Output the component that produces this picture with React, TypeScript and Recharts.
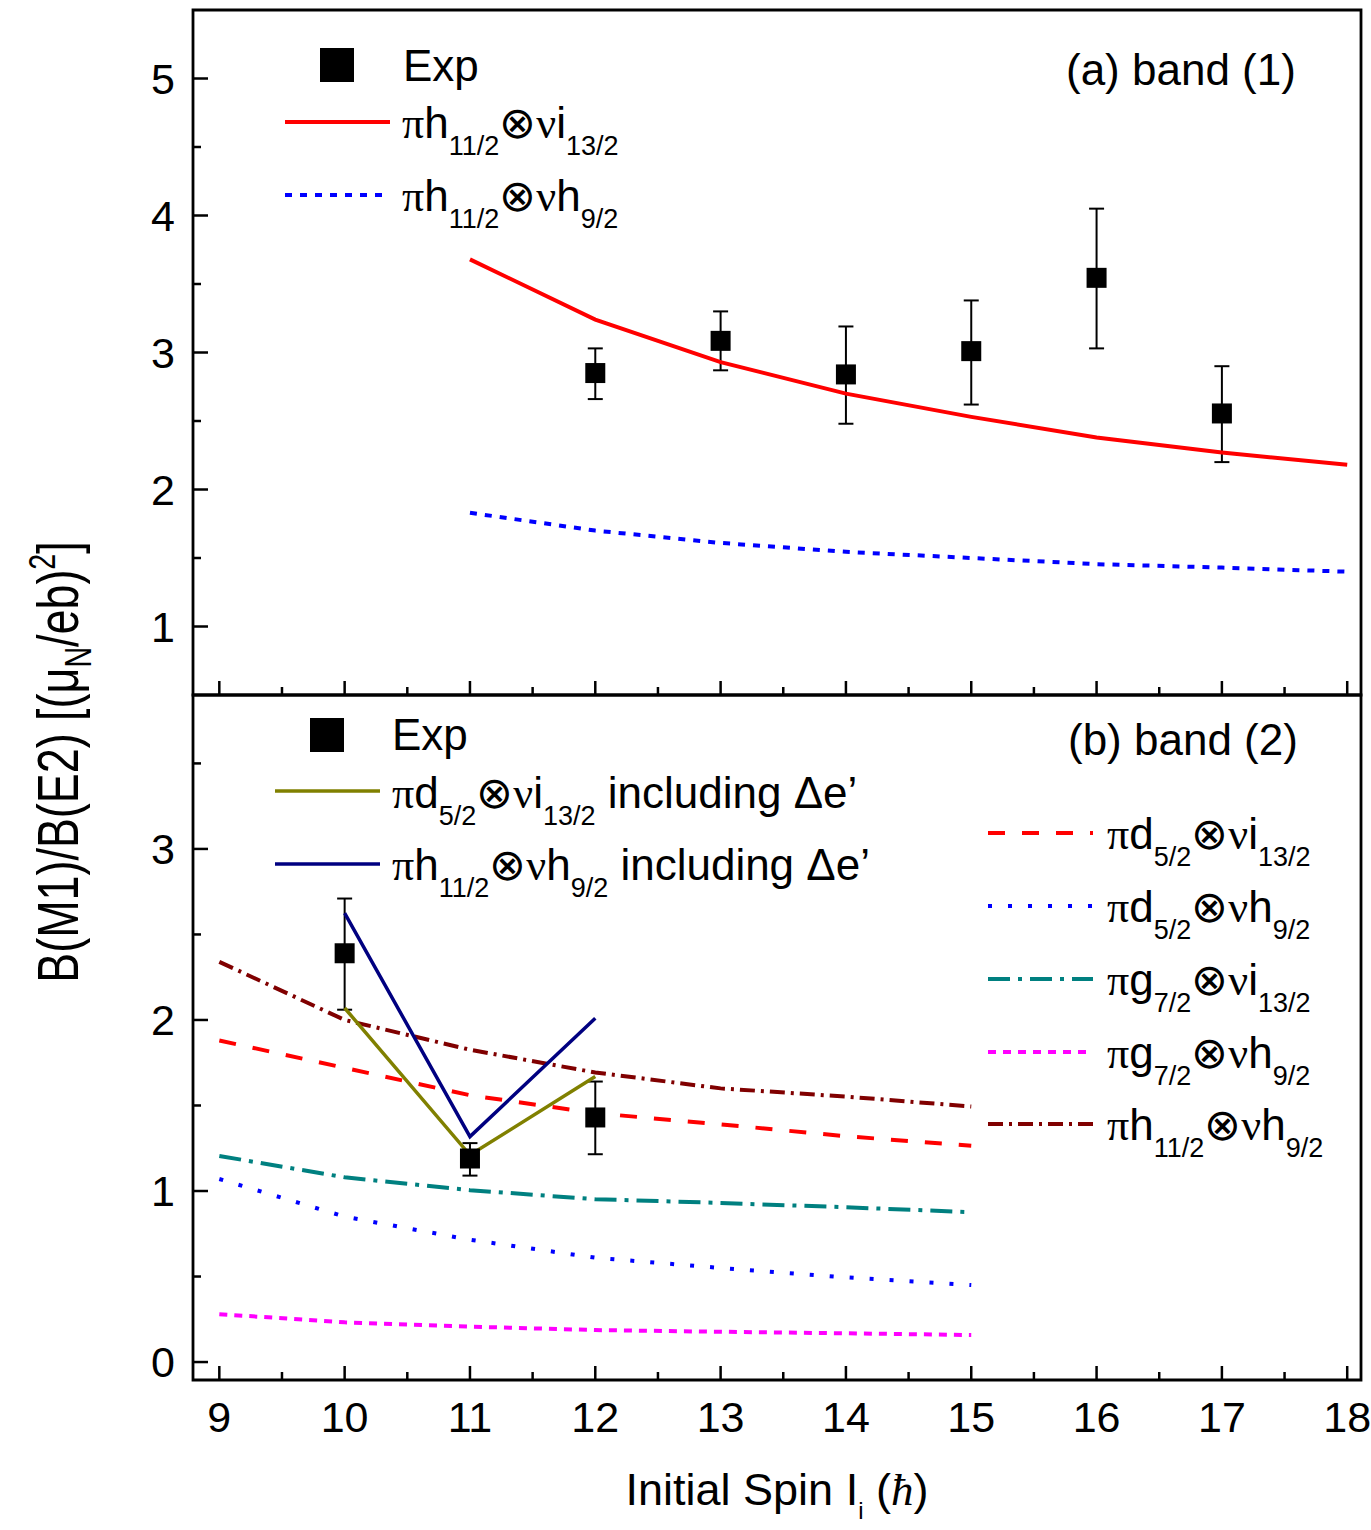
import React from 'react';
import {
  ComposedChart,
  Line,
  Scatter,
  XAxis,
  YAxis,
  ErrorBar,
  ReferenceArea,
  Legend,
} from 'recharts';

const FONT = '"Liberation Sans", Arial, Helvetica, sans-serif';
const SERIF = '"Liberation Serif", "DejaVu Serif", serif';
const W = 1371;
const H = 1530;

// shared x axis (initial spin)
const X_DOMAIN: [number, number] = [8.79, 18.11];
const X_TICKS = [9, 9.5, 10, 10.5, 11, 11.5, 12, 12.5, 13, 13.5, 14, 14.5, 15, 15.5, 16, 16.5, 17, 17.5, 18];

// panel (a) band (1)
const TOP_DOMAIN: [number, number] = [0.5, 5.5];
const TOP_TICKS = [1, 1.5, 2, 2.5, 3, 3.5, 4, 4.5, 5];
const topSpins = [11, 12, 13, 14, 15, 16, 17, 18];
const topHI = [3.68, 3.24, 2.93, 2.7, 2.53, 2.38, 2.27, 2.18];
const topHH = [1.83, 1.7, 1.61, 1.545, 1.5, 1.455, 1.43, 1.4];
const topExpSpins = [12, 13, 14, 15, 16, 17];
const topExp = [2.85, 3.085, 2.84, 3.01, 3.545, 2.555];
const topExpErrLo = [0.19, 0.215, 0.36, 0.39, 0.515, 0.355];
const topExpErrHi = [0.18, 0.215, 0.35, 0.37, 0.505, 0.345];

// panel (b) band (2)
const BOT_DOMAIN: [number, number] = [-0.105, 3.9];
const BOT_TICKS = [0, 0.5, 1, 1.5, 2, 2.5, 3, 3.5];
const botSpins = [9, 10, 11, 12, 13, 14, 15];
const botDI = [1.88, 1.72, 1.56, 1.455, 1.39, 1.32, 1.265];
const botDH = [1.07, 0.85, 0.715, 0.61, 0.55, 0.495, 0.45];
const botGI = [1.205, 1.08, 1.005, 0.952, 0.93, 0.905, 0.876];
const botGH = [0.28, 0.232, 0.207, 0.187, 0.177, 0.168, 0.158];
const botHH = [2.34, 2.0, 1.826, 1.693, 1.6, 1.552, 1.494];
const deltaSpins = [10, 11, 12];
const botDIDelta = [2.07, 1.21, 1.67];
const botHHDelta = [2.625, 1.318, 2.01];
const botExpSpins = [10, 11, 12];
const botExp = [2.39, 1.19, 1.43];
const botExpErrLo = [0.33, 0.1, 0.215];
const botExpErrHi = [0.32, 0.09, 0.21];

type Seg = [string, 'n' | 's' | 'g' | 'h'];

const LBL_HI: Seg[] = [['π', 'g'], ['h', 'n'], ['11/2', 's'], ['⊗', 'n'], ['ν', 'g'], ['i', 'n'], ['13/2', 's']];
const LBL_HH: Seg[] = [['π', 'g'], ['h', 'n'], ['11/2', 's'], ['⊗', 'n'], ['ν', 'g'], ['h', 'n'], ['9/2', 's']];
const LBL_DI: Seg[] = [['π', 'g'], ['d', 'n'], ['5/2', 's'], ['⊗', 'n'], ['ν', 'g'], ['i', 'n'], ['13/2', 's']];
const LBL_DH: Seg[] = [['π', 'g'], ['d', 'n'], ['5/2', 's'], ['⊗', 'n'], ['ν', 'g'], ['h', 'n'], ['9/2', 's']];
const LBL_GI: Seg[] = [['π', 'g'], ['g', 'n'], ['7/2', 's'], ['⊗', 'n'], ['ν', 'g'], ['i', 'n'], ['13/2', 's']];
const LBL_GH: Seg[] = [['π', 'g'], ['g', 'n'], ['7/2', 's'], ['⊗', 'n'], ['ν', 'g'], ['h', 'n'], ['9/2', 's']];
const INCL: Seg = [' including Δe’', 'n'];

const pts = (xs: number[], ys: number[]) => xs.map((x, i) => ({ x, y: ys[i] }));
const expPts = (xs: number[], ys: number[], lo: number[], hi: number[]) =>
  xs.map((x, i) => ({ x, y: ys[i], err: [lo[i], hi[i]] }));

function Formula({ x, y, segs, size = 44, sub = 27, shift = 17, anchor = 'start' }: any) {
  let level = 0;
  return (
    <text x={x} y={y} fontSize={size} fontFamily={FONT} fill="#000" textAnchor={anchor}>
      {segs.map(([t, k]: Seg, i: number) => {
        const want = k === 's' ? shift : 0;
        const dy = want - level;
        level = want;
        return (
          <tspan
            key={i}
            dy={dy}
            fontSize={k === 's' ? sub : size}
            fontFamily={k === 'g' || k === 'h' ? SERIF : undefined}
            fontStyle={k === 'h' ? 'italic' : undefined}
          >
            {t}
          </tspan>
        );
      })}
    </text>
  );
}

function XTick(props: any) {
  const { x, y, payload, showLabel } = props;
  const major = Number.isInteger(payload.value);
  return (
    <g>
      <line x1={x} x2={x} y1={y} y2={y - (major ? 14 : 8)} stroke="#000" strokeWidth={2.5} />
      {showLabel && major && (
        <text x={x} y={y + 52} textAnchor="middle" fontSize={43} fontFamily={FONT} fill="#000">
          {payload.value}
        </text>
      )}
    </g>
  );
}

function YTick(props: any) {
  const { x, y, payload } = props;
  const major = Number.isInteger(payload.value);
  return (
    <g>
      <line x1={x} x2={x + (major ? 15 : 8)} y1={y} y2={y} stroke="#000" strokeWidth={2.5} />
      {major && (
        <text x={x - 18} y={y + 15} textAnchor="end" fontSize={43} fontFamily={FONT} fill="#000">
          {payload.value}
        </text>
      )}
    </g>
  );
}

const Square = (props: any) => {
  const { cx, cy } = props;
  return <rect x={cx - 10} y={cy - 10} width={20} height={20} fill="#000" />;
};

const LegendSample = ({ y, x1, x2, color, dash, width = 4 }: any) => (
  <line x1={x1} x2={x2} y1={y} y2={y} stroke={color} strokeWidth={width} strokeDasharray={dash} />
);

const TopLegend = () => (
  <svg width={W} height={H} style={{ overflow: 'visible' }}>
    <rect x={320} y={48} width={34} height={34} fill="#000" />
    <text x={403} y={81} fontSize={44} fontFamily={FONT} fill="#000">Exp</text>
    <LegendSample y={122} x1={285} x2={390} color="#ff0000" />
    <Formula x={402} y={138} segs={LBL_HI} />
    <LegendSample y={195} x1={285} x2={387} color="#0000ff" dash="7 8" />
    <Formula x={402} y={211} segs={LBL_HH} />
    <text x={1066} y={85} fontSize={44} fontFamily={FONT} fill="#000">(a) band (1)</text>
    <text
      transform="translate(78, 762) rotate(-90) scale(1.02, 1.3)"
      textAnchor="middle"
      fontSize={44}
      fontFamily={FONT}
      fill="#000"
    >
      B(M1)/B(E2) [(μ
      <tspan dy={10} fontSize={28}>N</tspan>
      <tspan dy={-10}>/eb)</tspan>
      <tspan dy={-18} fontSize={28}>2</tspan>
      <tspan dy={18}>]</tspan>
    </text>
  </svg>
);

const RIGHT_ROWS = [
  { y: 833, color: '#ff0000', dash: '17 17', segs: LBL_DI },
  { y: 906, color: '#0000ff', dash: '4 16', segs: LBL_DH },
  { y: 979, color: '#008080', dash: '22 8 4 8', segs: LBL_GI },
  { y: 1052, color: '#ff00ff', dash: '8 7', segs: LBL_GH },
  { y: 1124, color: '#800000', dash: '15 6 3 6', segs: LBL_HH },
];

const BottomLegend = () => (
  <svg width={W} height={H} style={{ overflow: 'visible' }}>
    <rect x={310} y={718} width={34} height={34} fill="#000" />
    <text x={392} y={750} fontSize={44} fontFamily={FONT} fill="#000">Exp</text>
    <LegendSample y={791} x1={275} x2={380} color="#808000" width={3.5} />
    <Formula x={392} y={808} segs={[...LBL_DI, INCL]} />
    <LegendSample y={864} x1={275} x2={380} color="#000080" width={3.5} />
    <Formula x={392} y={880} segs={[...LBL_HH, INCL]} />
    <text x={1068} y={755} fontSize={44} fontFamily={FONT} fill="#000">(b) band (2)</text>
    {RIGHT_ROWS.map((r) => (
      <g key={r.y}>
        <LegendSample y={r.y} x1={988} x2={1093} color={r.color} dash={r.dash} />
        <Formula x={1107} y={r.y + 16} segs={r.segs} />
      </g>
    ))}
    <Formula
      x={777}
      y={1505}
      anchor="middle"
      size={45}
      sub={24}
      shift={14}
      segs={[['Initial Spin I', 'n'], ['i', 's'], [' (', 'n'], ['ħ', 'h'], [')', 'n']]}
    />
  </svg>
);

const legendWrap = { left: 0, top: 0, width: W, height: H, pointerEvents: 'none' as const };

export default function App() {
  return (
    <div style={{ position: 'absolute', left: 0, top: 0, width: W, height: H, background: '#fff' }}>
      <div style={{ position: 'absolute', left: 0, top: 0 }}>
        <ComposedChart width={W} height={H} margin={{ top: 10, right: 10, bottom: 834, left: 192 }}>
          <XAxis
            type="number"
            dataKey="x"
            domain={X_DOMAIN}
            ticks={X_TICKS}
            interval={0}
            allowDataOverflow
            height={1}
            axisLine={false}
            tickLine={false}
            tickSize={0}
            tickMargin={0}
            tick={(p: any) => <XTick {...p} showLabel={false} />}
          />
          <YAxis
            type="number"
            domain={TOP_DOMAIN}
            ticks={TOP_TICKS}
            interval={0}
            allowDataOverflow
            width={1}
            axisLine={false}
            tickLine={false}
            tickSize={0}
            tickMargin={0}
            tick={(p: any) => <YTick {...p} />}
          />
          <ReferenceArea
            x1={X_DOMAIN[0]}
            x2={X_DOMAIN[1]}
            y1={TOP_DOMAIN[0]}
            y2={TOP_DOMAIN[1]}
            fill="none"
            stroke="#000"
            strokeWidth={2.8}
            ifOverflow="visible"
          />
          <Scatter data={expPts(topExpSpins, topExp, topExpErrLo, topExpErrHi)} dataKey="y" shape={Square} isAnimationActive={false}>
            <ErrorBar dataKey="err" direction="y" width={7.5} stroke="#000" strokeWidth={2} isAnimationActive={false} />
          </Scatter>
          <Line data={pts(topSpins, topHI)} dataKey="y" type="linear" stroke="#ff0000" strokeWidth={4} dot={false} isAnimationActive={false} />
          <Line data={pts(topSpins, topHH)} dataKey="y" type="linear" stroke="#0000ff" strokeWidth={4} strokeDasharray="7 8" dot={false} isAnimationActive={false} />
          <Legend layout="vertical" align="center" verticalAlign="middle" wrapperStyle={legendWrap} content={() => <TopLegend />} />
        </ComposedChart>
      </div>
      <div style={{ position: 'absolute', left: 0, top: 0 }}>
        <ComposedChart width={W} height={H} margin={{ top: 695, right: 10, bottom: 149, left: 192 }}>
          <XAxis
            type="number"
            dataKey="x"
            domain={X_DOMAIN}
            ticks={X_TICKS}
            interval={0}
            allowDataOverflow
            height={1}
            axisLine={false}
            tickLine={false}
            tickSize={0}
            tickMargin={0}
            tick={(p: any) => <XTick {...p} showLabel />}
          />
          <YAxis
            type="number"
            domain={BOT_DOMAIN}
            ticks={BOT_TICKS}
            interval={0}
            allowDataOverflow
            width={1}
            axisLine={false}
            tickLine={false}
            tickSize={0}
            tickMargin={0}
            tick={(p: any) => <YTick {...p} />}
          />
          <ReferenceArea
            x1={X_DOMAIN[0]}
            x2={X_DOMAIN[1]}
            y1={BOT_DOMAIN[0]}
            y2={BOT_DOMAIN[1]}
            fill="none"
            stroke="#000"
            strokeWidth={2.8}
            ifOverflow="visible"
          />
          <Scatter data={expPts(botExpSpins, botExp, botExpErrLo, botExpErrHi)} dataKey="y" shape={Square} isAnimationActive={false}>
            <ErrorBar dataKey="err" direction="y" width={7.5} stroke="#000" strokeWidth={2} isAnimationActive={false} />
          </Scatter>
          <Line data={pts(botSpins, botDI)} dataKey="y" stroke="#ff0000" strokeWidth={4} strokeDasharray="17 17" dot={false} isAnimationActive={false} />
          <Line data={pts(botSpins, botDH)} dataKey="y" stroke="#0000ff" strokeWidth={4} strokeDasharray="4 16" dot={false} isAnimationActive={false} />
          <Line data={pts(botSpins, botGI)} dataKey="y" stroke="#008080" strokeWidth={4} strokeDasharray="22 8 4 8" dot={false} isAnimationActive={false} />
          <Line data={pts(botSpins, botGH)} dataKey="y" stroke="#ff00ff" strokeWidth={4} strokeDasharray="8 7" dot={false} isAnimationActive={false} />
          <Line data={pts(botSpins, botHH)} dataKey="y" stroke="#800000" strokeWidth={4} strokeDasharray="15 6 3 6" dot={false} isAnimationActive={false} />
          <Line data={pts(deltaSpins, botDIDelta)} dataKey="y" stroke="#808000" strokeWidth={3.5} dot={false} isAnimationActive={false} />
          <Line data={pts(deltaSpins, botHHDelta)} dataKey="y" stroke="#000080" strokeWidth={3.5} dot={false} isAnimationActive={false} />
          <Legend layout="vertical" align="center" verticalAlign="middle" wrapperStyle={legendWrap} content={() => <BottomLegend />} />
        </ComposedChart>
      </div>
    </div>
  );
}
